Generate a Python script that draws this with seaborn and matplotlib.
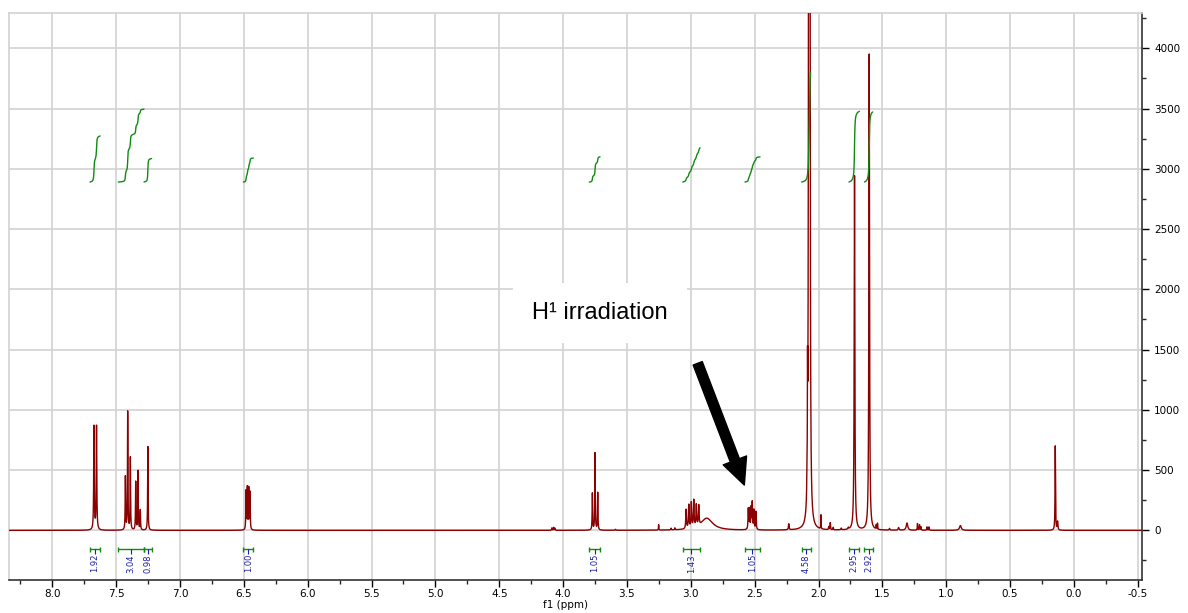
import numpy as np
import pandas as pd
import matplotlib
matplotlib.use("Agg")
import matplotlib.pyplot as plt
from matplotlib.ticker import MultipleLocator
import seaborn as sns

# peak list: shift (ppm), height, half width at half height (ppm)
peak_ppm = [7.674, 7.654, 7.428, 7.410, 7.389, 7.347, 7.329, 7.311, 7.252,
            6.483, 6.473, 6.462, 6.452,
            4.088, 4.075, 4.065, 3.771, 3.750, 3.729, 3.590, 3.252, 3.155, 3.125,
            3.037, 3.016, 2.996, 2.977, 2.957, 2.938, 2.875,
            2.550, 2.540, 2.528, 2.519, 2.506, 2.490, 2.233,
            2.090, 2.086, 2.076, 2.068, 1.981, 1.920, 1.908, 1.885, 1.822, 1.767,
            1.718, 1.603, 1.548, 1.538, 1.444, 1.373, 1.307,
            1.225, 1.209, 1.198, 1.151, 1.135, 0.889, 0.146, 0.128]
peak_height = [860, 860, 440, 980, 600, 400, 490, 165, 695,
               320, 345, 340, 310,
               20, 24, 18, 305, 640, 310, 8, 45, 14, 16,
               160, 195, 210, 225, 180, 165, 100,
               170, 165, 175, 220, 160, 150, 50,
               230, 800, 9000, 9000, 115, 25, 58, 20, 14, 14,
               2940, 3950, 35, 50, 14, 22, 60,
               55, 45, 28, 28, 28, 40, 700, 70]
peak_hwhm = [0.0025, 0.0025, 0.002, 0.002, 0.002, 0.002, 0.002, 0.002, 0.002,
             0.002, 0.002, 0.002, 0.002,
             0.002, 0.002, 0.002, 0.002, 0.002, 0.002, 0.003, 0.0015, 0.002, 0.002,
             0.003, 0.003, 0.003, 0.003, 0.003, 0.003, 0.055,
             0.0025, 0.0025, 0.0025, 0.0025, 0.0025, 0.0025, 0.003,
             0.0015, 0.0012, 0.0025, 0.0025, 0.0012, 0.002, 0.002, 0.002, 0.003, 0.003,
             0.003, 0.003, 0.0015, 0.0015, 0.003, 0.004, 0.007,
             0.002, 0.002, 0.002, 0.002, 0.002, 0.008, 0.002, 0.003]

# integration regions (ppm) and values
int_start = [7.705, 7.483, 7.282, 6.504, 3.795, 3.063, 2.576, 2.132, 1.761, 1.640]
int_end = [7.626, 7.282, 7.222, 6.426, 3.711, 2.928, 2.458, 2.062, 1.680, 1.576]
int_value = [1.92, 3.04, 0.98, 1.00, 1.05, 1.43, 1.05, 4.58, 2.95, 2.92]

RED = "#8b0000"
GREEN = "#108a10"
BLUE = "#1c1ca8"
GRID = "#d2d2d2"

sns.set_style("white")
plt.rcParams["font.family"] = ["DejaVu Sans"]
plt.rcParams["axes.unicode_minus"] = False
plt.rcParams["text.color"] = "black"

ppm = np.linspace(8.337, -0.531, 60000)
intensity = np.zeros_like(ppm)
for p, h, w in zip(peak_ppm, peak_height, peak_hwhm):
    intensity += h / (1 + ((ppm - p) / w) ** 2)
spec = pd.DataFrame({"ppm": ppm, "intensity": intensity})

fig = plt.figure(figsize=(11.88, 6.13), dpi=100)
ax = fig.add_axes([0.00783, 0.0538, 0.9532, 0.9245])

sns.lineplot(data=spec, x="ppm", y="intensity", ax=ax, color=RED,
             linewidth=1.0, estimator=None, sort=False, zorder=3)

# integral curves
INT_BASE = 2890
INT_SCALE = 199
for s, e, v in zip(int_start, int_end, int_value):
    part = spec[(spec.ppm <= s) & (spec.ppm >= e)]
    cum = part.intensity.cumsum().values
    curve = pd.DataFrame({"ppm": part.ppm.values,
                          "integral": INT_BASE + v * INT_SCALE * cum / cum[-1]})
    sns.lineplot(data=curve, x="ppm", y="integral", ax=ax, color=GREEN,
                 linewidth=1.0, estimator=None, sort=False, zorder=4)

    # bracket + label under the baseline
    mid = (s + e) / 2
    ax.hlines(-158, e, s, color=GREEN, linewidth=1.0, zorder=4)
    ax.vlines([s, e], -180, -136, color=GREEN, linewidth=1.0, zorder=4)
    ax.vlines(mid, -194, -158, color=BLUE, linewidth=0.8, zorder=4)
    ax.text(mid, -197, f"{v:.2f}", rotation=90, ha="center", va="top",
            fontsize=6, color=BLUE, zorder=5)

ax.set_xlim(8.337, -0.531)
ax.set_ylim(-412, 4290)

ax.xaxis.set_major_locator(MultipleLocator(0.5))
ax.xaxis.set_minor_locator(MultipleLocator(0.25))
ax.yaxis.set_major_locator(MultipleLocator(500))
ax.yaxis.set_minor_locator(MultipleLocator(250))
ax.xaxis.set_major_formatter(matplotlib.ticker.FormatStrFormatter("%.1f"))
ax.yaxis.tick_right()

ax.grid(True, which="major", color=GRID, linewidth=1.2, zorder=0)
ax.set_axisbelow(True)

ax.tick_params(axis="both", which="major", direction="out", length=5, width=1,
               labelsize=7.5, colors="black")
ax.tick_params(axis="both", which="minor", direction="out", length=3, width=1)
ax.tick_params(axis="x", which="both", bottom=True, top=False, pad=1.5)
ax.tick_params(axis="y", which="both", right=True, left=False, pad=4)

for side in ["left", "top"]:
    ax.spines[side].set_color(GRID)
    ax.spines[side].set_linewidth(1.2)
for side in ["right", "bottom"]:
    ax.spines[side].set_color("#333333")
    ax.spines[side].set_linewidth(1.2)

ax.set_ylabel("")
ax.set_xlabel("f1 (ppm)", fontsize=7.5, color="black")
ax.xaxis.set_label_coords(0.491, -0.036)

ax.text(3.711, 1751, "H\u00b9 irradiation", family=["Liberation Sans", "DejaVu Sans"],
        fontsize=17, color="black", ha="center", va="baseline", zorder=6,
        bbox=dict(facecolor="white", edgecolor="none", boxstyle="square,pad=0.8"))
ax.annotate("", xy=(2.581, 376), xytext=(2.946, 1386),
            arrowprops=dict(facecolor="black", edgecolor="black", width=7,
                            headwidth=18, headlength=19, shrink=0), zorder=6)

fig.savefig("out.png", dpi=100)
